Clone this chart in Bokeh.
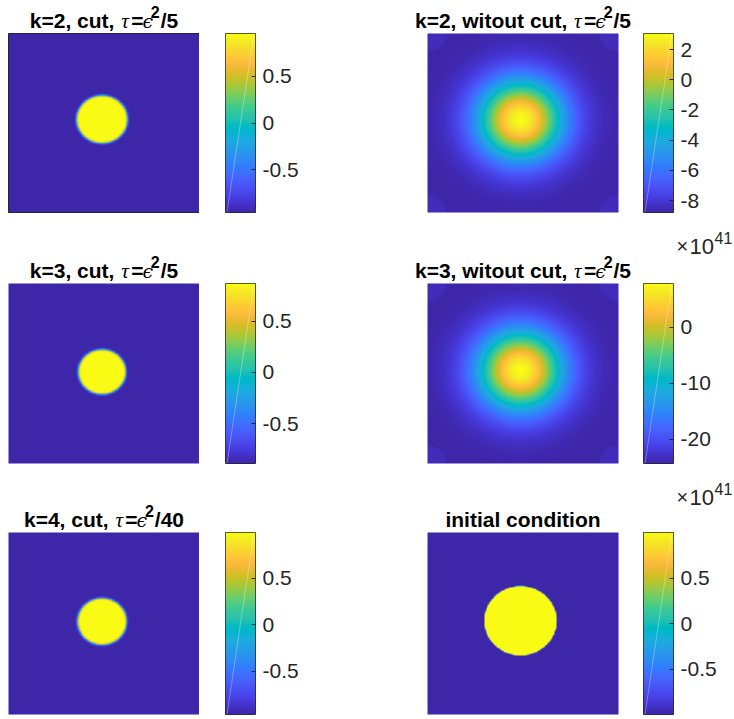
import numpy as np
from bokeh.plotting import figure
from bokeh.layouts import row, column
from bokeh.models import LinearColorMapper, Label, FixedTicker
from bokeh.embed import file_html
from bokeh.resources import INLINE

# ---------------- data ----------------
panel_kind = ["cut", "nocut", "cut", "nocut", "cut", "init"]
title_main = ["k=2, cut, ", "k=2, witout cut, ", "k=3, cut, ",
              "k=3, witout cut, ", "k=4, cut, ", "initial condition"]
title_denom = ["/5", "/5", "/5", "/5", "/40", ""]

cb_low = [-0.954, -8.79, -0.888, -24.3, -0.966, -1.0]
cb_high = [0.954, 3.06, 0.867, 7.8, 0.99, 1.0]
cb_ticks = [[-0.5, 0, 0.5], [-8, -6, -4, -2, 0, 2], [-0.5, 0, 0.5],
            [-20, -10, 0], [-0.5, 0, 0.5], [-0.5, 0, 0.5]]
cb_tick_labels = [["-0.5", "0", "0.5"], ["-8", "-6", "-4", "-2", "0", "2"],
                  ["-0.5", "0", "0.5"], ["-20", "-10", "0"],
                  ["-0.5", "0", "0.5"], ["-0.5", "0", "0.5"]]
# exponent text shown under the right colorbars of rows 1 and 2
exponent_base = ["\u00d7", "10"]
exponent_power = ["41", "41"]

# disks: panels k=2 cut, k=3 cut, k=4 cut, initial condition
disk_panel = [0, 2, 4, 5]
disk_cx = [0.490, 0.490, 0.490, 0.487]
disk_cy = [0.520, 0.509, 0.511, 0.515]
disk_r = [0.133, 0.124, 0.128, 0.190]
disk_w = [0.006, 0.006, 0.006, 0.0012]

# smooth blobs: panels k=2 / k=3 without cut
blob_panel = [1, 3]
blob_cx = [0.487, 0.487]
blob_cy = [0.518, 0.518]
blob_s = [0.225, 0.225]
corner_r = [0.10, 0.10]
corner_lift = [0.025, 0.025]

# ---------------- parula colormap ----------------
parula64 = [
    (0.2422, 0.1504, 0.6603), (0.2504, 0.1650, 0.7076), (0.2578, 0.1818, 0.7511), (0.2647, 0.1978, 0.7952),
    (0.2706, 0.2147, 0.8364), (0.2751, 0.2342, 0.8710), (0.2783, 0.2559, 0.8991), (0.2803, 0.2782, 0.9221),
    (0.2813, 0.3006, 0.9414), (0.2810, 0.3228, 0.9579), (0.2795, 0.3447, 0.9717), (0.2760, 0.3667, 0.9829),
    (0.2699, 0.3892, 0.9906), (0.2602, 0.4123, 0.9952), (0.2440, 0.4358, 0.9988), (0.2206, 0.4603, 0.9973),
    (0.1963, 0.4847, 0.9892), (0.1834, 0.5074, 0.9798), (0.1786, 0.5289, 0.9682), (0.1764, 0.5499, 0.9520),
    (0.1687, 0.5703, 0.9359), (0.1540, 0.5902, 0.9218), (0.1460, 0.6091, 0.9079), (0.1380, 0.6276, 0.8973),
    (0.1248, 0.6459, 0.8883), (0.1113, 0.6635, 0.8763), (0.0952, 0.6798, 0.8598), (0.0689, 0.6948, 0.8394),
    (0.0297, 0.7082, 0.8163), (0.0036, 0.7203, 0.7917), (0.0067, 0.7312, 0.7660), (0.0433, 0.7411, 0.7394),
    (0.0964, 0.7500, 0.7120), (0.1408, 0.7584, 0.6842), (0.1717, 0.7670, 0.6554), (0.1938, 0.7758, 0.6251),
    (0.2161, 0.7843, 0.5923), (0.2470, 0.7918, 0.5567), (0.2906, 0.7973, 0.5188), (0.3406, 0.8008, 0.4789),
    (0.3909, 0.8029, 0.4354), (0.4456, 0.8024, 0.3909), (0.5044, 0.7993, 0.3480), (0.5616, 0.7942, 0.3045),
    (0.6174, 0.7876, 0.2612), (0.6720, 0.7793, 0.2227), (0.7242, 0.7698, 0.1910), (0.7738, 0.7598, 0.1646),
    (0.8203, 0.7498, 0.1535), (0.8634, 0.7406, 0.1596), (0.9035, 0.7330, 0.1774), (0.9393, 0.7288, 0.2100),
    (0.9728, 0.7298, 0.2394), (0.9956, 0.7434, 0.2371), (0.9970, 0.7659, 0.2199), (0.9952, 0.7893, 0.2028),
    (0.9892, 0.8136, 0.1885), (0.9786, 0.8386, 0.1766), (0.9676, 0.8639, 0.1643), (0.9610, 0.8890, 0.1537),
    (0.9597, 0.9135, 0.1423), (0.9628, 0.9373, 0.1265), (0.9691, 0.9606, 0.1064), (0.9769, 0.9839, 0.0805)]
_pa = np.array(parula64)
_xs = np.linspace(0, 1, 64)
_xi = np.linspace(0, 1, 256)
palette = ["#%02x%02x%02x" % tuple(int(round(255 * np.interp(v, _xs, _pa[:, c]))) for c in range(3))
           for v in _xi]

# ---------------- fields ----------------
N = 300
gx = (np.arange(N) + 0.5) / N
X, Y = np.meshgrid(gx, gx)
fields = [None] * 6
for j, i in enumerate(disk_panel):
    r = np.hypot(X - disk_cx[j], Y - disk_cy[j])
    t = 0.5 + 0.5 * np.tanh((disk_r[j] - r) / disk_w[j])
    fields[i] = cb_low[i] + (cb_high[i] - cb_low[i]) * t
for j, i in enumerate(blob_panel):
    r2 = (X - blob_cx[j]) ** 2 + (Y - blob_cy[j]) ** 2
    t = np.exp(-r2 / blob_s[j] ** 2)
    dc = np.hypot(np.minimum(X, 1 - X), np.minimum(Y, 1 - Y))
    t = t + corner_lift[j] * (0.5 + 0.5 * np.tanh((corner_r[j] - dc) / 0.004))
    t = np.clip(t, 0, 1)
    fields[i] = cb_low[i] + (cb_high[i] - cb_low[i]) * t

# ---------------- layout geometry ----------------
row_bt = [33, 33, 32]
row_fh = [179, 180, 182]
row_bb = [38, 37, 5]
# right colorbar column: colorbar, exponent strip, colorbar, exponent strip, colorbar
rcb_bt = [33, 19, 17]
rcb_bb = [14, 14, 5]
EXP_H = 38
FW = 191
CBW = 30
BASE_FIX = 6  # alphabetic-baseline correction of the svg text placement

BOLD = {' ': 0.278, ',': 0.278, '=': 0.584, '/': 0.278, 'k': 0.556, 'c': 0.556, 'u': 0.611,
        't': 0.333, 'w': 0.778, 'i': 0.278, 'o': 0.611, 'n': 0.611, 'a': 0.556, 'l': 0.278, 'd': 0.611}
for d in "0123456789":
    BOLD[d] = 0.556
TFS = 21
SUPFS = 16


def bold_w(s, fs):
    return sum(BOLD[ch] for ch in s) * fs


def add_title(p, i, cx, ybase):
    pieces = []  # text, font, style, size, advance, rise
    if title_denom[i]:
        pieces.append((title_main[i], "Liberation Sans", "bold", TFS, bold_w(title_main[i], TFS) + 1, 0))
        pieces.append(("\u03c4", "Liberation Serif", "italic", TFS, 0.47 * TFS, 0))
        pieces.append(("=", "Liberation Sans", "bold", TFS, bold_w("=", TFS) - 1, 0))
        pieces.append(("\u03f5", "DejaVu Serif", "italic", TFS - 2, 0.40 * TFS, 0))
        pieces.append(("2", "Liberation Sans", "bold", SUPFS, bold_w("2", SUPFS) + 1, 9))
        pieces.append((title_denom[i], "Liberation Sans", "bold", TFS, bold_w(title_denom[i], TFS), 0))
    else:
        pieces.append((title_main[i], "Liberation Sans", "bold", TFS, bold_w(title_main[i], TFS), 0))
    total = sum(pc[4] for pc in pieces)
    x = cx - total / 2
    for txt, font, style, size, adv, rise in pieces:
        p.add_layout(Label(x=x, y=ybase + rise, x_units="screen", y_units="screen", text=txt,
                           text_font=font, text_font_style=style, text_font_size="%dpx" % size,
                           text_color="black", text_baseline="alphabetic", text_align="left"))
        x += adv


def image_fig(i, r, bl, br, outline):
    fh, bt, bb = row_fh[r], row_bt[r], row_bb[r]
    # the frame covers the whole panel area (titles included); the image sits on [0,1]x[0,1]
    p = figure(width=bl + FW + br, height=bt + fh + bb,
               x_range=(-bl / FW, 1 + br / FW), y_range=(-bb / fh, 1 + bt / fh),
               toolbar_location=None, output_backend="svg", x_axis_location=None, y_axis_location=None,
               min_border=0, title=None, frame_align=False)
    p.grid.visible = False
    p.outline_line_color = None
    mapper = LinearColorMapper(palette=palette, low=cb_low[i], high=cb_high[i])
    p.image(image=[fields[i]], x=0, y=0, dw=1, dh=1, color_mapper=mapper)
    if outline:
        p.quad(left=0, right=1, bottom=0, top=1, fill_color=None, line_color="#262626", line_width=1)
    add_title(p, i, bl + FW / 2, bb + fh + 7 + BASE_FIX)
    return p


def cbar_fig(i, fh, bt, bb, bl, br):
    lo, hi = cb_low[i], cb_high[i]
    p = figure(width=bl + CBW + br, height=bt + fh + bb, x_range=(0, 1), y_range=(lo, hi),
               toolbar_location=None, output_backend="svg", x_axis_location=None, y_axis_location="right",
               min_border_left=bl, min_border_right=br, min_border_top=bt,
               min_border_bottom=bb, title=None, frame_align=False)
    p.grid.visible = False
    p.outline_line_color = "#262626"
    p.outline_line_width = 1
    mapper = LinearColorMapper(palette=palette, low=lo, high=hi)
    grad = np.linspace(lo, hi, 256).reshape(-1, 1)
    p.image(image=[grad], x=0, y=lo, dw=1, dh=hi - lo, color_mapper=mapper)
    p.line(x=[0.05, 0.95], y=[lo, hi], line_color="white", line_alpha=0.45, line_width=0.7)
    ax = p.yaxis[0]
    ax.ticker = FixedTicker(ticks=cb_ticks[i])
    ax.major_label_overrides = {t: lab for t, lab in zip(cb_ticks[i], cb_tick_labels[i])}
    ax.major_tick_in = 4
    ax.major_tick_out = 0
    ax.major_tick_line_color = "#262626"
    ax.minor_tick_line_color = None
    ax.axis_line_color = None
    ax.major_label_text_font = "Liberation Sans"
    ax.major_label_text_font_size = "21px"
    ax.major_label_text_color = "#262626"
    ax.major_label_standoff = 7
    return p


def exponent_fig(k, width):
    p = figure(width=width, height=EXP_H, x_range=(0, 1), y_range=(0, 1),
               toolbar_location=None, output_backend="svg", x_axis_location=None, y_axis_location=None,
               min_border=0, title=None, frame_align=False)
    p.grid.visible = False
    p.outline_line_color = None
    base_y = 13 + BASE_FIX - 1
    p.add_layout(Label(x=38, y=base_y + 1, x_units="screen", y_units="screen", text=exponent_base[0],
                       text_font="Liberation Sans", text_font_size="20px", text_color="#262626",
                       text_baseline="alphabetic", text_align="left"))
    p.add_layout(Label(x=51, y=base_y, x_units="screen", y_units="screen", text=exponent_base[1],
                       text_font="Liberation Sans", text_font_size="22px", text_color="#262626",
                       text_baseline="alphabetic", text_align="left"))
    p.add_layout(Label(x=76, y=base_y + 9, x_units="screen", y_units="screen", text=exponent_power[k],
                       text_font="Liberation Sans", text_font_size="16px", text_color="#262626",
                       text_baseline="alphabetic", text_align="left"))
    return p


colL, colCL, colR, colCR = [], [], [], []
for r in range(3):
    iL, iR = 2 * r, 2 * r + 1
    colL.append(image_fig(iL, r, 8, 0, outline=(iL == 0)))
    colCL.append(cbar_fig(iL, row_fh[r], row_bt[r], row_bb[r], 26, 145))
    colR.append(image_fig(iR, r, 27, 20, outline=False))
    colCR.append(cbar_fig(iR, row_fh[r], rcb_bt[r], rcb_bb[r], 5, 61))
    if r < 2:
        colCR.append(exponent_fig(r, 5 + CBW + 61))

layout = row(column(*colL), column(*colCL), column(*colR), column(*colCR))
open("out.html", "w").write(file_html(layout, INLINE))
